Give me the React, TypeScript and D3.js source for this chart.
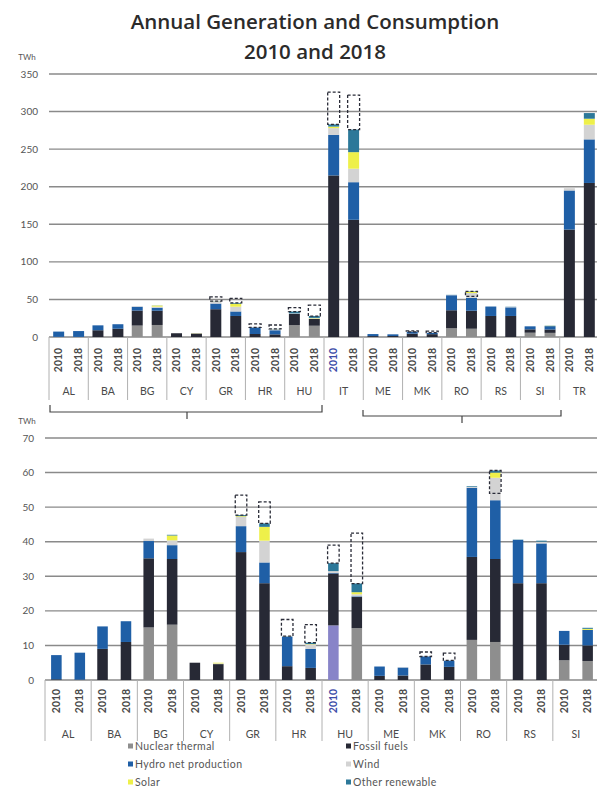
import React from "react";
import * as d3 from "d3";

const countries = ["AL", "BA", "BG", "CY", "GR", "HR", "HU", "IT", "ME", "MK", "RO", "RS", "SI", "TR"];
const bottomCountries = ["AL", "BA", "BG", "CY", "GR", "HR", "HU", "ME", "MK", "RO", "RS", "SI"];
const years = ["2010", "2018"];

const seriesNames = ["Nuclear thermal", "Fossil fuels", "Hydro net production", "Wind", "Solar", "Other renewable"];
const seriesColors = ["#8e8e8e", "#272935", "#1f5fa6", "#d3d3d3", "#eef04a", "#2c7899"];

// values per country (order of `countries`), TWh
const nuclear2010 = [0, 0, 15.2, 0, 0, 0, 15.8, 0, 0, 0, 11.6, 0, 5.7, 0];
const nuclear2018 = [0, 0, 16.0, 0, 0, 0, 15.0, 0, 0, 0, 11.0, 0, 5.5, 0];
const fossil2010 = [0.2, 9, 20, 5, 37, 4, 15, 215, 1.2, 4.5, 24, 28, 4.5, 143];
const fossil2018 = [0.1, 11, 19, 4.6, 28, 3.5, 9, 156, 1.3, 3.8, 24, 28, 4.5, 205];
const hydro2010 = [7, 6.5, 5, 0, 7.5, 8.5, 0.2, 54, 2.7, 2.3, 20, 12.5, 4, 52];
const hydro2018 = [7.8, 6, 4, 0, 6, 5.5, 0.2, 50, 2.3, 1.8, 17, 11.5, 4.5, 58];
const wind2010 = [0, 0, 0.7, 0, 2.7, 0.1, 0.5, 9, 0, 0, 0.3, 0, 0, 3];
const wind2018 = [0, 0, 1.4, 0.2, 6.3, 1.3, 0.6, 18, 0.1, 0.1, 6.5, 0.5, 0, 19.5];
const solar2010 = [0, 0, 0, 0, 0.2, 0, 0, 2, 0, 0, 0, 0, 0, 0];
const solar2018 = [0, 0, 1.4, 0.2, 4, 0.1, 0.6, 22, 0, 0, 1.5, 0, 0.3, 8];
const other2010 = [0, 0, 0, 0, 0.3, 0.1, 2.3, 3, 0, 0, 0.2, 0.1, 0, 0];
const other2018 = [0, 0, 0.2, 0, 1, 0.4, 2.5, 30, 0, 0, 0.6, 0.3, 0.3, 7.5];
// consumption shown as dashed boxes (null = not shown)
const consumption2010 = [null, null, null, null, 53.5, 17.5, 39, 326, null, 8.1, null, null, null, null];
const consumption2018 = [null, null, null, null, 51.5, 16, 42.5, 322, null, 7.8, 54, null, null, null];

const topTicks = [0, 50, 100, 150, 200, 250, 300, 350];
const bottomTicks = [0, 10, 20, 30, 40, 50, 60, 70];

type Row = { country: string; year: string; values: number[]; cons: number | null };

function buildRows(list: string[]): Row[] {
  const rows: Row[] = [];
  list.forEach((c) => {
    const i = countries.indexOf(c);
    rows.push({
      country: c,
      year: "2010",
      values: [nuclear2010[i], fossil2010[i], hydro2010[i], wind2010[i], solar2010[i], other2010[i]],
      cons: consumption2010[i],
    });
    rows.push({
      country: c,
      year: "2018",
      values: [nuclear2018[i], fossil2018[i], hydro2018[i], wind2018[i], solar2018[i], other2018[i]],
      cons: consumption2018[i],
    });
  });
  return rows;
}

const FONT = "Lato, 'Open Sans', sans-serif";

function Panel(props: {
  list: string[];
  x0: number;
  x1: number;
  yTop: number;
  yZero: number;
  max: number;
  ticks: number[];
  sepBottom: number;
  yearY: number;
  catY: number;
  gridRight: number;
  highlight: string;
  pIn: number;
  pOut: number;
  labelRight: number;
}) {
  const { list, x0, x1, yTop, yZero, max, ticks, sepBottom, yearY, catY, gridRight, highlight, pIn, pOut, labelRight } = props;
  const rows = buildRows(list);
  const x = d3.scaleBand<string>().domain(list).range([x0, x1]).padding(0);
  const xi = d3.scaleBand<string>().domain(years).range([0, x.bandwidth()]).paddingInner(pIn).paddingOuter(pOut);
  const y = d3.scaleLinear().domain([0, max]).range([yZero, yTop]);
  const keys = seriesNames.map((_, i) => i);
  const stack = d3
    .stack<Row, number>()
    .keys(keys)
    .value((d, k) => d.values[k]);
  const stacked = stack(rows);
  const bw = xi.bandwidth();

  return (
    <g>
      {ticks.map((t) => (
        <g key={t}>
          <line x1={x0} x2={gridRight} y1={y(t)} y2={y(t)} stroke="#8a8a8a" strokeWidth={1.4} />
          <text x={labelRight} y={y(t)} dy="0.35em" textAnchor="end" fontSize={10} fill="#555" fontFamily={FONT}>
            {t}
          </text>
        </g>
      ))}
      {list.map((c) => (
        <line key={"s" + c} x1={x(c)!} x2={x(c)!} y1={yZero} y2={sepBottom} stroke="#b0b0b0" strokeWidth={1} />
      ))}
      {stacked.map((layer, k) =>
        layer.map((d, j) => {
          const r = rows[j];
          if (r.values[k] <= 0) return null;
          let color = seriesColors[k];
          if (r.country === highlight && r.year === "2010" && k === 0) color = "#8884c8";
          return (
            <rect
              key={k + "-" + j}
              x={x(r.country)! + xi(r.year)!}
              y={y(d[1])}
              width={bw}
              height={Math.max(0, y(d[0]) - y(d[1]))}
              fill={color}
            />
          );
        })
      )}
      {rows.map((r, j) => {
        if (r.cons == null) return null;
        const total = d3.sum(r.values);
        const lo = Math.min(total, r.cons);
        const hi = Math.max(total, r.cons);
        return (
          <rect
            key={"c" + j}
            x={x(r.country)! + xi(r.year)! - 0.5}
            y={y(hi)}
            width={bw + 1}
            height={y(lo) - y(hi)}
            fill="none"
            stroke="#2a2c38"
            strokeWidth={1.3}
            strokeDasharray="3,2"
          />
        );
      })}
      {rows.map((r, j) => {
        const cx = x(r.country)! + xi(r.year)! + bw / 2;
        const blue = r.country === highlight && r.year === "2010";
        return (
          <text
            key={"y" + j}
            transform={`translate(${cx},${yearY}) rotate(-90)`}
            textAnchor="middle"
            dy="0.35em"
            fontSize={10.5}
            fontWeight={700}
            fill={blue ? "#3d4da8" : "#4a4a4a"}
            fontFamily={FONT}
          >
            {r.year}
          </text>
        );
      })}
      {list.map((c) => (
        <text
          key={"l" + c}
          x={x(c)! + x.bandwidth() / 2}
          y={catY}
          dy="0.35em"
          textAnchor="middle"
          fontSize={10.5}
          fill="#4a4a4a"
          fontFamily={FONT}
        >
          {c}
        </text>
      ))}
    </g>
  );
}

export default function App() {
  return (
    <svg width={597} height={793} style={{ position: "absolute", left: 0, top: 0, background: "#fff" }}>
      <rect width={597} height={793} fill="#fff" />
      <text x={315} y={29} textAnchor="middle" fontSize={20.5} fontWeight={600} fill="#2b2b2b" fontFamily="'Open Sans', sans-serif">
        Annual Generation and Consumption
      </text>
      <text x={315} y={59} textAnchor="middle" fontSize={20.5} fontWeight={600} fill="#2b2b2b" fontFamily="'Open Sans', sans-serif">
        2010 and 2018
      </text>
      <text x={27} y={57} textAnchor="middle" dy="0.35em" fontSize={8} fill="#555" fontFamily={FONT}>TWh</text>
      <Panel
        list={countries}
        x0={49}
        x1={599}
        yTop={74}
        yZero={337}
        max={350}
        ticks={topTicks}
        sepBottom={400}
        yearY={360}
        catY={391}
        gridRight={597}
        highlight="IT"
        pIn={0.45}
        pOut={0.21}
        labelRight={38}
      />
      <path d="M50,405 L50,412 L322,412 L322,405 M187,412 L187,419" fill="none" stroke="#444" strokeWidth={1.2} />
      <path d="M363,410 L363,416 L561,416 L561,410 M462,416 L462,423" fill="none" stroke="#444" strokeWidth={1.2} />
      <text x={27} y={421} textAnchor="middle" dy="0.35em" fontSize={8} fill="#555" fontFamily={FONT}>TWh</text>
      <Panel
        list={bottomCountries}
        x0={45}
        x1={599}
        yTop={438}
        yZero={680}
        max={70}
        ticks={bottomTicks}
        sepBottom={741}
        yearY={701}
        catY={734}
        gridRight={597}
        highlight="HU"
        pIn={0.55}
        pOut={0.26}
        labelRight={34}
      />
      {seriesNames.map((s, i) => {
        const col = i % 2;
        const row = Math.floor(i / 2);
        const lx = col === 0 ? 128 : 346;
        const ly = 746 + row * 18;
        return (
          <g key={s}>
            <rect x={lx} y={ly - 2.5} width={5} height={5} fill={seriesColors[i]} />
            <text x={lx + 7} y={ly} dy="0.35em" fontSize={10.5} letterSpacing={0.4} fill="#555" fontFamily={FONT}>
              {s}
            </text>
          </g>
        );
      })}
    </svg>
  );
}
